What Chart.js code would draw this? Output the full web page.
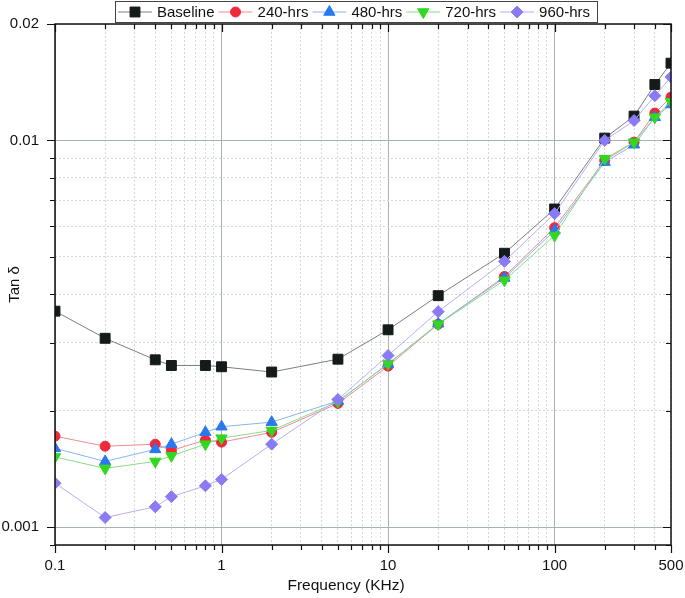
<!DOCTYPE html>
<html>
<head>
<meta charset="utf-8">
<script src="https://cdn.jsdelivr.net/npm/chart.js@4.4.1/dist/chart.umd.min.js"></script>
<style>
  body { margin: 0; background: #fff; }
  canvas { display: block; }
</style>
</head>
<body>
<canvas id="myChart" width="685" height="598"></canvas>
<script>
// Frequency (KHz) and Tan delta values
var freq = [0.1, 0.2, 0.4, 0.5, 0.8, 1, 2, 5, 10, 20, 50, 100, 200, 300, 400, 500];
var baseline = [0.00362, 0.00308, 0.00271, 0.00262, 0.00262, 0.00260, 0.00252, 0.00272, 0.00324, 0.00397, 0.00511, 0.00665, 0.01014, 0.01156, 0.01395, 0.01584];
var hrs240 = [0.00172, 0.00162, 0.00164, 0.00158, 0.00168, 0.00166, 0.00176, 0.00209, 0.00261, 0.00335, 0.00445, 0.00595, 0.00888, 0.00990, 0.01177, 0.01294];
var hrs480 = [0.00160, 0.00148, 0.00159, 0.00164, 0.00176, 0.00182, 0.00187, 0.00212, 0.00264, 0.00336, 0.00441, 0.00585, 0.00879, 0.00975, 0.01148, 0.01239];
var hrs720 = [0.00152, 0.00142, 0.00148, 0.00153, 0.00164, 0.00170, 0.00178, 0.00211, 0.00265, 0.00335, 0.00435, 0.00568, 0.00897, 0.00990, 0.01148, 0.01259];
var hrs960 = [0.00130, 0.00106, 0.00113, 0.00120, 0.00128, 0.00133, 0.00164, 0.00214, 0.00278, 0.00361, 0.00487, 0.00647, 0.01000, 0.01126, 0.01305, 0.01458];

// labelled ticks
var xTickLabels = [0.1, 1, 10, 100, 500];
var yTickLabels = [0.001, 0.01, 0.02];

// minor ticks 1..9 per decade, cut to the axis range
function logTicks(lo, hi) {
    var out = [];
    for (var k = -4; k <= 3; k++) {
        for (var m = 1; m <= 9; m++) {
            var v = Number((m * Math.pow(10, k)).toPrecision(6));
            if (v >= lo && v <= hi) out.push(v);
        }
    }
    return out;
}
var xTicks = logTicks(0.1, 500);
var yTicks = logTicks(0.0009, 0.02);

function isDecade(v) {
    var l = Math.log10(v);
    return Math.abs(l - Math.round(l)) < 1e-9;
}

var series = [
    { label: 'Baseline', values: baseline, line: '#7a7f7f', fill: '#151a1a', style: 'rect', radius: 7, rot: 0 },
    { label: '240-hrs', values: hrs240, line: '#f08a94', fill: '#f0283c', style: 'circle', radius: 5, rot: 0 },
    { label: '480-hrs', values: hrs480, line: '#88b6ee', fill: '#2a78ee', style: 'triangle', radius: 6.5, rot: 0 },
    { label: '720-hrs', values: hrs720, line: '#88dc88', fill: '#30d820', style: 'triangle', radius: 6.5, rot: 180 },
    { label: '960-hrs', values: hrs960, line: '#b8b0f6', fill: '#8a7af4', style: 'rectRot', radius: 6, rot: 0 }
];

var datasets = series.map(function (s, i) {
    return {
        label: s.label,
        data: freq.map(function (f, j) { return { x: f, y: s.values[j] }; }),
        borderColor: s.line,
        borderWidth: 1,
        pointStyle: s.style,
        pointRadius: s.radius,
        pointRotation: s.rot,
        pointBackgroundColor: s.fill,
        pointBorderColor: s.fill,
        pointBorderWidth: 1,
        fill: false,
        tension: 0,
        order: series.length - i // later series drawn on top
    };
});

// box frame with mirrored ticks, x title, legend box
var framePlugin = {
    id: 'frame',
    afterDatasetsDraw: function (chart) {
        var ctx = chart.ctx;
        var a = chart.chartArea;
        var xs = chart.scales.x, ys = chart.scales.y;
        ctx.save();
        ctx.strokeStyle = '#111';
        ctx.lineWidth = 1.5;
        ctx.strokeRect(a.left, a.top, a.right - a.left, a.bottom - a.top);
        ctx.lineWidth = 1.2;
        ctx.beginPath();
        xTicks.forEach(function (v) {
            var px = Math.round(xs.getPixelForValue(v)) + 0.5;
            var len = xTickLabels.indexOf(v) >= 0 ? 8 : 5;
            ctx.moveTo(px, a.bottom); ctx.lineTo(px, a.bottom + len);
            ctx.moveTo(px, a.top); ctx.lineTo(px, a.top + len);
        });
        yTicks.forEach(function (v) {
            var py = Math.round(ys.getPixelForValue(v)) + 0.5;
            var len = yTickLabels.indexOf(v) >= 0 ? 8 : 5;
            ctx.moveTo(a.left - len, py); ctx.lineTo(a.left, py);
            ctx.moveTo(a.right, py); ctx.lineTo(a.right - len, py);
        });
        ctx.stroke();
        ctx.restore();
    },
    afterDraw: function (chart) {
        var ctx = chart.ctx;
        ctx.save();
        // x axis title sits a bit left of centre in the original
        ctx.font = '15.5px "Liberation Sans", Arial, sans-serif';
        ctx.fillStyle = '#111';
        ctx.textAlign = 'center';
        ctx.textBaseline = 'middle';
        ctx.fillText('Frequency (KHz)', chart.chartArea.left + 291, chart.chartArea.bottom + 41);

        ctx.textAlign = 'left';
        ctx.fillStyle = '#fff';
        ctx.fillRect(115.5, 1.5, 482, 21);
        ctx.strokeStyle = '#444';
        ctx.lineWidth = 1;
        ctx.strokeRect(115.5, 1.5, 482, 21);
        ctx.font = '15px "Liberation Sans", Arial, sans-serif';
        var x = 118, y = 12;
        series.forEach(function (s) {
            ctx.strokeStyle = s.line;
            ctx.lineWidth = 1;
            ctx.beginPath();
            ctx.moveTo(x, y); ctx.lineTo(x + 34, y);
            ctx.stroke();
            ctx.fillStyle = s.fill;
            ctx.strokeStyle = s.fill;
            Chart.helpers.drawPoint(ctx, {
                pointStyle: s.style, radius: s.radius, rotation: s.rot, borderWidth: 1
            }, x + 17, y);
            ctx.fillStyle = '#111';
            ctx.fillText(s.label, x + 39, y + 1);
            x = x + 39 + ctx.measureText(s.label).width + 4;
        });
        ctx.restore();
    }
};

Chart.defaults.font.family = '"Liberation Sans", Arial, sans-serif';
Chart.defaults.color = '#111';

var ctx = document.getElementById('myChart').getContext('2d');
var myChart = new Chart(ctx, {
    type: 'line',
    data: { datasets: datasets },
    options: {
        responsive: false,
        animation: false,
        layout: { padding: { top: 24, right: 14, left: 0, bottom: 0 } },
        plugins: {
            legend: { display: false },
            tooltip: { enabled: false }
        },
        scales: {
            x: {
                type: 'logarithmic',
                min: 0.1,
                max: 500,
                afterBuildTicks: function (scale) {
                    scale.ticks = xTicks.map(function (v) { return { value: v }; });
                },
                afterFit: function (scale) {
                    scale.height = 53;
                    scale.paddingLeft = 0;
                    scale.paddingRight = 0;
                },
                ticks: {
                    autoSkip: false,
                    maxRotation: 0,
                    padding: 4,
                    font: { size: 15 },
                    callback: function (v) { return xTickLabels.indexOf(v) >= 0 ? String(v) : ''; }
                },
                grid: {
                    color: function (c) { return c.tick && isDecade(c.tick.value) ? '#aab3b3' : '#d3d9d9'; },
                    lineWidth: 1,
                    tickLength: 8,
                    tickColor: 'rgba(0,0,0,0)'
                },
                border: {
                    display: false,
                    dash: function (c) { return c.tick && isDecade(c.tick.value) ? [] : [2, 2]; }
                },
                title: { display: false }
            },
            y: {
                type: 'logarithmic',
                min: 0.0009,
                max: 0.02,
                afterBuildTicks: function (scale) {
                    scale.ticks = yTicks.map(function (v) { return { value: v }; });
                },
                afterFit: function (scale) { scale.width = 55; },
                ticks: {
                    autoSkip: false,
                    padding: 8,
                    font: { size: 15 },
                    callback: function (v) { return yTickLabels.indexOf(v) >= 0 ? String(v) : ''; }
                },
                grid: {
                    color: function (c) { return c.tick && isDecade(c.tick.value) ? '#aab3b3' : '#d3d9d9'; },
                    lineWidth: 1,
                    tickLength: 8,
                    tickColor: 'rgba(0,0,0,0)'
                },
                border: {
                    display: false,
                    dash: function (c) { return c.tick && isDecade(c.tick.value) ? [] : [2, 2]; }
                },
                title: {
                    display: true,
                    text: 'Tan δ',
                    font: { size: 15 },
                    padding: { top: 6, bottom: 0 }
                }
            }
        }
    },
    plugins: [framePlugin]
});
</script>
</body>
</html>
